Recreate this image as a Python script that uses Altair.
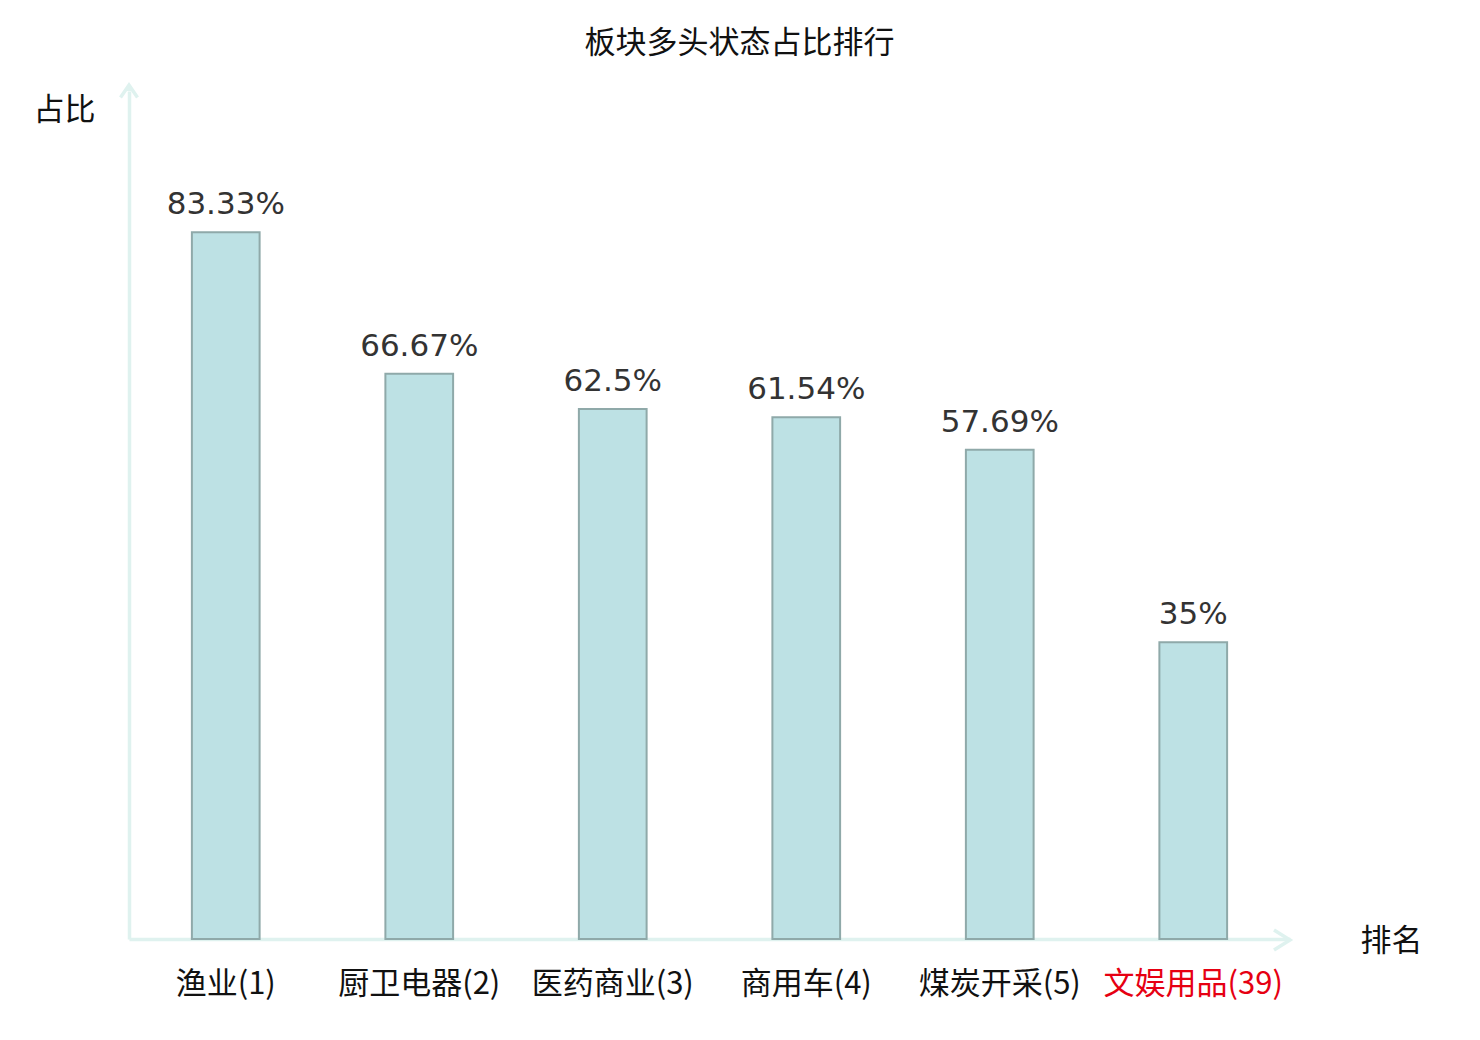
import altair as alt
import pandas as pd

categories = ["渔业(1)", "厨卫电器(2)", "医药商业(3)", "商用车(4)", "煤炭开采(5)", "文娱用品(39)"]
values = [83.33, 66.67, 62.5, 61.54, 57.69, 35]
highlight = "文娱用品(39)"

df = pd.DataFrame({"name": categories, "ratio": values})
df["label"] = [f"{v:g}%" for v in values]

AXIS_COLOR = "#dff2ef"
CJK = "Noto Sans CJK SC"
W, H = 1161, 848

base = alt.Chart(df)

bars = base.mark_bar(fill="#bde1e4", stroke="#8fa9a9", strokeWidth=2).encode(
    x=alt.X(
        "name:N",
        sort=None,
        scale=alt.Scale(paddingInner=0.65, paddingOuter=0.325),
        axis=alt.Axis(
            title="排名",
            titleX=1262,
            titleY=2,
            titleAlign="center",
            titleBaseline="middle",
            titleAngle=0,
            titleFont=CJK,
            titleFontSize=31,
            titleFontWeight="normal",
            titleColor="#111111",
            labelFont=CJK,
            labelFontSize=31,
            labelAngle=0,
            labelPadding=30,
            labelColor={"expr": f"datum.value === '{highlight}' ? '#e60012' : '#111111'"},
            ticks=False,
            grid=False,
            domainColor=AXIS_COLOR,
            domainWidth=3.5,
        ),
    ),
    y=alt.Y(
        "ratio:Q",
        scale=alt.Scale(domain=[0, 100], nice=False),
        axis=alt.Axis(
            title="占比",
            titleX=-65,
            titleY=19,
            titleAlign="center",
            titleBaseline="middle",
            titleAngle=0,
            titleFont=CJK,
            titleFontSize=31,
            titleFontWeight="normal",
            titleColor="#111111",
            labels=False,
            ticks=False,
            grid=False,
            domainColor=AXIS_COLOR,
            domainWidth=3.5,
        ),
    ),
)

texts = base.mark_text(
    dy=-18, baseline="alphabetic", font="DejaVu Sans", fontSize=31, color="#333333"
).encode(
    x=alt.X("name:N", sort=None),
    y="ratio:Q",
    text="label:N",
)

yext = alt.Chart(df).mark_rule(color=AXIS_COLOR, strokeWidth=3.5).encode(
    x=alt.value(0), y=alt.value(-6), y2=alt.value(0)
)

up_arrow = alt.Chart(pd.DataFrame({"a": [0]})).mark_point(
    shape="M-0.85,1.25L0,0L0.85,1.25", filled=False, stroke=AXIS_COLOR,
    strokeWidth=3.5, size=400, opacity=1,
).encode(x=alt.value(0), y=alt.value(-6))

right_arrow = alt.Chart(pd.DataFrame({"a": [0]})).mark_point(
    shape="M-1.6,-1L0,0L-1.6,1", filled=False, stroke=AXIS_COLOR,
    strokeWidth=3.5, size=400, opacity=1,
).encode(x=alt.value(W), y=alt.value(H + 1))

chart = (
    alt.layer(bars, texts, yext, up_arrow, right_arrow)
    .properties(
        width=W,
        height=H,
        autosize=alt.AutoSizeParams(type="none"),
        padding={"left": 121, "top": 83, "right": 182, "bottom": 93},
        title=alt.TitleParams(
            "板块多头状态占比排行",
            font=CJK,
            fontSize=31,
            fontWeight="normal",
            color="#111111",
            anchor="middle",
            dx=30,
            offset=18,
        ),
    )
    .configure_view(stroke=None)
)

chart.save("out.html", embed_options={"renderer": "svg", "actions": False})
